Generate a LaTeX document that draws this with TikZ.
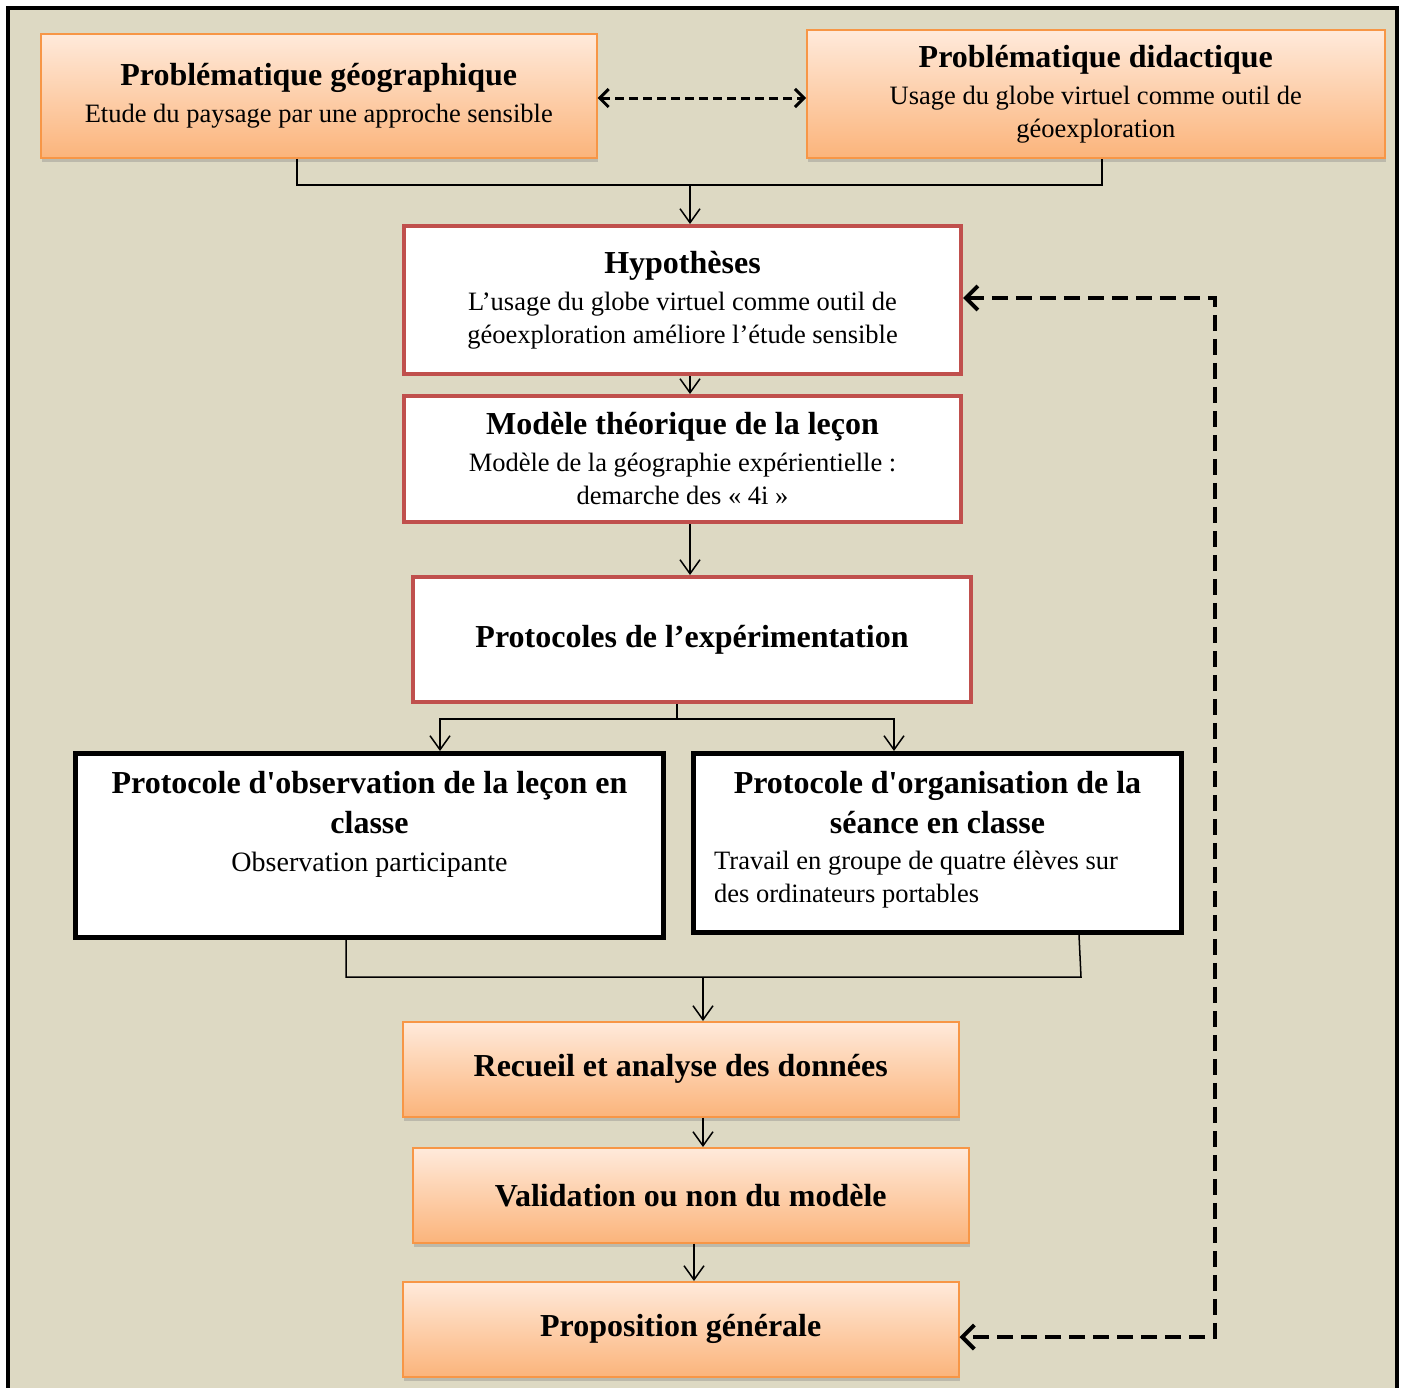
\documentclass[tikz,border=0pt]{standalone}
\usepackage{fontspec}
\setmainfont{Liberation Serif}
\usetikzlibrary{arrows.meta,shadows,positioning}
\definecolor{paper}{HTML}{DDD9C3}
\definecolor{orangeline}{HTML}{F79646}
\definecolor{orangetop}{HTML}{FFEADB}
\definecolor{orangebot}{HTML}{FBB47B}
\definecolor{redline}{HTML}{C0504D}
\newcommand{\boxtitle}{\bfseries\fontsize{32}{40}\selectfont}
\newcommand{\boxsub}{\mdseries\fontsize{26.5}{33}\selectfont}
\tikzset{
  orangebox/.style={draw=orangeline, line width=1.5pt, top color=orangetop, bottom color=orangebot,
    drop shadow={opacity=0.35, shadow xshift=1pt, shadow yshift=-4pt}, align=center, anchor=north west,
    font=\boxsub},
  redbox/.style={draw=redline, line width=4pt, fill=white, align=center, anchor=north west, font=\boxsub},
  blackbox/.style={draw=black, line width=5pt, fill=white, anchor=north west},
  boxtext/.style={align=center, inner sep=0pt, font=\boxtitle},
  wire/.style={line width=1.5pt},
  link/.style={wire, -{Straight Barb[length=14pt,width=20pt]}},
  twoway/.style={line width=3pt, dash pattern=on 9pt off 5pt,
    {Straight Barb[length=9pt,width=18pt]}-{Straight Barb[length=9pt,width=18pt]}},
  loopback/.style={line width=4pt, dash pattern=on 16pt off 8pt,
    {Straight Barb[length=12pt,width=24pt]}-{Straight Barb[length=12pt,width=24pt]}}
}
\begin{document}
\begin{tikzpicture}[x=1pt,y=-1pt]
\useasboundingbox (0,0) rectangle (1403,1387);
% frame
\fill[paper] (8,8) rectangle (1397,1400);
\draw[line width=4pt] (8,1400) -- (8,8) -- (1397,8) -- (1397,1400);

% problematiques
\node[orangebox, minimum width=556, minimum height=124] (geo) at (40,33)
  {\boxtitle Problématique géographique\\[4pt] \boxsub Etude du paysage par une approche sensible};
\node[orangebox, minimum width=578, minimum height=128] (did) at (806,29)
  {\boxtitle Problématique didactique\\[4pt] \boxsub Usage du globe virtuel comme outil de\\ \boxsub géoexploration};
\draw[twoway] (geo.east |- 0,98) -- (did.west |- 0,98);

% central column
\node[redbox, minimum width=557, minimum height=148] (hyp) at (402,224)
  {\boxtitle Hypothèses\\[4pt] \boxsub L’usage du globe virtuel comme outil de\\ \boxsub géoexploration améliore l’étude sensible};
\node[redbox, minimum width=557, minimum height=126] (model) at (402,394)
  {\boxtitle Modèle théorique de la leçon\\[4pt] \boxsub Modèle de la géographie expérientielle :\\ \boxsub demarche des «~4i~»};
\node[redbox, minimum width=558, minimum height=125] (proto) at (411,575)
  {\boxtitle Protocoles de l’expérimentation};

% protocol boxes
\node[blackbox, minimum width=588, minimum height=184] (obs) at (73,751) {};
\node[boxtext, below=20pt of obs.north] (obstext)
  {\boxtitle Protocole d\textquotesingle observation de la leçon en\\ \boxtitle classe\\[-2pt]
   \mdseries\fontsize{28}{34}\selectfont Observation participante};
\node[blackbox, minimum width=488, minimum height=179] (org) at (691,751) {};
\node[boxtext, below=20pt of org.north] (orgtitle)
  {\boxtitle Protocole d\textquotesingle organisation de la\\ \boxtitle séance en classe};
\node[align=left, inner sep=0pt, font=\boxsub, anchor=base west] (orgsub) at (714,902)
  {\boxsub Travail en groupe de quatre élèves sur\\ \boxsub des ordinateurs portables};

% results
\node[orangebox, minimum width=556, minimum height=95] (data) at (402,1021)
  {\boxtitle Recueil et analyse des données};
\node[orangebox, minimum width=556, minimum height=95] (valid) at (412,1147)
  {\boxtitle Validation ou non du modèle};
\node[orangebox, minimum width=556, minimum height=95] (prop) at (402,1281)
  {\boxtitle Proposition générale};

% connectors
\coordinate (topL) at (297,185);
\coordinate (topR) at (1102,185);
\coordinate (topM) at (690,185);
\draw[wire] (geo.south -| topL) -- (topL) -- (topR) -- (did.south -| topR);
\draw[link] (topM) -- (topM |- hyp.north);
\draw[link] (hyp.south -| topM) -- (model.north -| topM);
\draw[link] (model.south -| topM) -- (proto.north -| topM);

\coordinate (splitM) at (677,719);
\coordinate (splitL) at (440,719);
\coordinate (splitR) at (894,719);
\draw[wire] (proto.south -| splitM) -- (splitM);
\draw[link] (splitM) -- (splitL) -- (splitL |- obs.north);
\draw[link] (splitM) -- (splitR) -- (splitR |- org.north);

\coordinate (botL) at (346,977);
\coordinate (botR) at (1081,977);
\coordinate (botM) at (703,977);
\draw[wire] (obs.south -| botL) -- (botL) -- (botR) -- (1079,935);
\draw[link] (botM) -- (botM |- data.north);
\draw[link] (data.south -| botM) -- (valid.north -| botM);
\draw[link] (valid.south -| 694,0) -- (prop.north -| 694,0);

% feedback loop
\coordinate (loopT) at (1215,298);
\coordinate (loopB) at (1215,1337);
\draw[loopback] (hyp.east |- loopT) -- (loopT) -- (loopB) -- (prop.east |- loopB);
\end{tikzpicture}
\end{document}
